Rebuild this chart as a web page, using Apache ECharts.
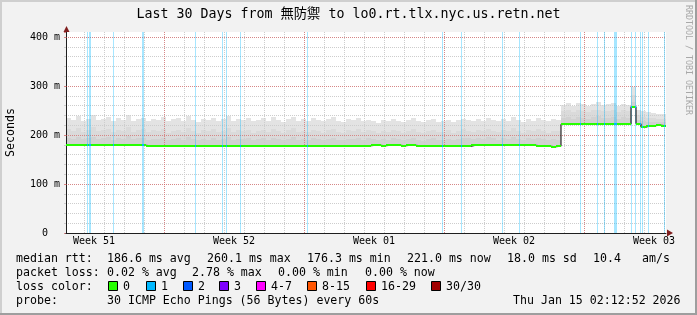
<!DOCTYPE html>
<html><head><meta charset="utf-8">
<script src="https://cdn.jsdelivr.net/npm/echarts@6/dist/echarts.min.js"></script>
<style>html,body{margin:0;padding:0;background:#f2f2f2}#c{width:697px;height:315px}</style>
</head><body><div id="c"></div>
<script>
// ---------------- data ----------------
const titleText = 'Last 30 Days from 無防禦 to lo0.rt.tlx.nyc.us.retn.net';
const weekLabels = ['Week 51', 'Week 52', 'Week 01', 'Week 02', 'Week 03'];
const yMajorTicks = [0, 100, 200, 300, 400];
const SAMPLE_DAYS = 0.25;   // each sample covers 6 hours
// median RTT (ms), one value per 6h sample, 120 samples = 30 days
const medianMs = [
  180,180,179,180,179,180,180,179,180,179,180,179,179,180,179,179,178,
  178,177,177,178,177,177,177,178,177,177,177,177,178,177,177,177,177,177,178,177,
  177,177,177,177,178,177,177,177,177,177,177,178,177,177,177,177,177,177,178,177,
  177,177,177,178,
  179,179,178,179,179,179,178,179,179,178,
  177,177,177,178,177,177,177,177,178,177,
  179,179,179,180,179,179,179,179,180,179,179,179,179,178,
  177,177,176,177,
  222,222,223,222,222,222,223,222,222,222,222,223,222,222,
  258,223,216,219,219,220,219
];
// smoke: upper edges of the three smoke shades (ms)
const smokeHigh = [
  234,231,238,229,233,240,230,233,236,228,234,231,241,229,232,235,229,233,230,236,
  228,232,235,229,238,230,227,233,231,235,229,232,239,228,233,230,235,228,231,234,
  229,236,230,227,232,237,228,232,229,234,231,228,233,236,229,227,232,230,235,228,
  231,229,225,230,228,232,229,227,230,234,228,226,230,233,227,229,231,227,230,233,
  231,228,233,229,235,230,228,232,229,236,231,227,232,229,234,230,228,232,231,
  262,265,260,266,263,259,264,267,261,263,265,260,264,262,
  297,252,248,246,244,243,242
];
const smokeMid = [
  212,209,214,207,211,216,208,210,213,206,211,209,217,207,210,212,206,210,208,213,
  205,209,211,207,214,208,205,210,208,212,206,209,215,206,210,208,211,205,208,211,
  207,212,208,205,210,214,206,209,207,211,208,205,210,213,207,205,210,208,212,206,
  210,208,204,209,206,211,208,205,208,212,206,204,209,211,206,207,210,205,208,212,
  209,207,211,208,213,209,206,210,208,214,209,205,210,208,212,209,205,209,208,
  248,250,247,251,249,246,250,252,248,249,251,247,250,248,
  282,240,236,235,234,233,233
];
const smokeInner = [
  194,192,195,191,193,196,192,193,195,190,193,192,197,191,193,194,190,192,191,194,
  189,191,193,190,195,191,189,192,190,194,190,191,196,189,192,191,193,189,191,193,
  190,194,191,189,192,195,190,191,190,193,191,189,192,194,190,189,192,191,194,190,
  193,192,190,192,190,194,192,190,191,194,189,188,191,193,189,190,192,189,191,194,
  193,191,194,192,195,193,190,193,192,196,192,190,193,191,194,192,189,191,190,
  234,236,233,237,235,232,236,238,234,235,237,233,236,234,
  268,231,228,227,226,226,226
];
// days (from left edge) where packet loss occurred, and lost pings
const lossDays = [1.05,1.15,1.2,2.35,3.8,3.85,6.45,7.8,8.0,8.7,12.05,18.8,19.75,21.8,22.65,
  25.7,26.55,26.9,27.4,27.45,27.5,28.25,28.45,28.7,28.8,29.1,29.9];
const lossPings = lossDays.map(() => 1);
// legend text
const rttStats = ['median rtt:', '186.6 ms avg', '260.1 ms max', '176.3 ms min', '221.0 ms now', '18.0 ms sd', '10.4', 'am/s'];
const lossStats = ['packet loss:', '0.02 % avg', '2.78 % max', '0.00 % min', '0.00 % now'];
const lossClasses = ['0', '1', '2', '3', '4-7', '8-15', '16-29', '30/30'];
const lossClassColors = ['#26ff00', '#00b8ff', '#0059ff', '#7e00ff', '#ff00ff', '#ff5500', '#ff0000', '#a10000'];
const probeText = ['probe:', '30 ICMP Echo Pings (56 Bytes) every 60s', 'Thu Jan 15 02:12:52 2026'];

// ---------------- layout / style ----------------
const MONO = '"DejaVu Sans Mono", "Noto Sans CJK JP", monospace';
const Y_MAX = 410.2;
const rttX = [16, 107, 207, 307, 407, 507, 593, 642];
const lossX = [16, 107, 192, 278, 365];
const boxX = [108, 146, 183, 219, 256, 307, 366, 431];
const probeX = [16, 107, 513];
const rowY = [259, 273, 287, 301];
const GRID_MINOR = '#cdcdcd';
const GRID_MAJOR = 'rgba(222,79,79,0.55)';

function txt(s, x, y, size, color, extra) {
  return {type: 'text', z: 50, silent: true, style: Object.assign({
    text: s, x: x, y: y, fill: color || '#000', font: size + 'px ' + MONO,
    textAlign: 'left', textVerticalAlign: 'middle'}, extra || {})};
}

const graphics = [];
// frame shading
graphics.push({type:'rect', z: 40, shape:{x:0,y:0,width:697,height:2}, style:{fill:'#cfcfcf'}});
graphics.push({type:'rect', z: 40, shape:{x:0,y:0,width:2,height:315}, style:{fill:'#cfcfcf'}});
graphics.push({type:'rect', z: 41, shape:{x:0,y:313,width:697,height:2}, style:{fill:'#9e9e9e'}});
graphics.push({type:'rect', z: 41, shape:{x:695,y:0,width:2,height:315}, style:{fill:'#9e9e9e'}});
// title
graphics.push(txt(titleText, 348.5, 15, 13.3, '#000', {textAlign: 'center'}));
// y axis title
graphics.push({type:'text', z: 50, x: 11, y: 132.5, rotation: Math.PI / 2,
  style:{text:'Seconds', x:0, y:0, fill:'#000', font:'11.6px ' + MONO, textAlign:'center', textVerticalAlign:'middle'}});
// watermark
graphics.push({type:'text', z: 50, x: 688.5, y: 60, rotation: -Math.PI / 2,
  style:{text:'RRDTOOL / TOBI OETIKER', x:0, y:0, fill:'#a8a8a8', font:'8.3px ' + MONO, textAlign:'center', textVerticalAlign:'middle'}});
// axis arrows
graphics.push({type:'polygon', z: 45, shape:{points:[[63.5,32],[66.5,26],[69.5,32]]}, style:{fill:'#801f1f'}});
graphics.push({type:'polygon', z: 45, shape:{points:[[667,229.5],[673,233],[667,236.5]]}, style:{fill:'#801f1f'}});
// legend
rttStats.forEach((s, i) => graphics.push(txt(s, rttX[i], rowY[0], 11.6)));
lossStats.forEach((s, i) => graphics.push(txt(s, lossX[i], rowY[1], 11.6)));
graphics.push(txt('loss color:', 16, rowY[2], 11.6));
lossClasses.forEach((s, i) => {
  graphics.push({type:'rect', z: 50, shape:{x: boxX[i] + 0.5, y: 281.5, width: 9, height: 9},
    style:{fill: lossClassColors[i], stroke:'#000', lineWidth: 1}});
  graphics.push(txt(s, boxX[i] + 15, rowY[2], 11.6));
});
probeText.forEach((s, i) => graphics.push(txt(s, probeX[i], rowY[3], 11.6)));

// ---------------- series ----------------
function bandSeries(name, upper, color, z) {
  return {
    name: name, type: 'custom', xAxisIndex: 0, yAxisIndex: 0, z: z, silent: true,
    data: upper.map((v, i) => [i * SAMPLE_DAYS, (i + 1) * SAMPLE_DAYS, medianMs[i], v]),
    encode: {x: [0, 1], y: [2, 3]},
    renderItem: function (params, api) {
      const p0 = api.coord([api.value(0), api.value(3)]);
      const p1 = api.coord([api.value(1), api.value(2)]);
      const x0 = Math.round(p0[0]), x1 = Math.round(p1[0]);
      const y0 = Math.round(p0[1]), y1 = Math.round(p1[1]);
      return {type: 'rect', shape: {x: x0, y: y0, width: x1 - x0, height: y1 - y0}, style: {fill: color}};
    }
  };
}

const medianStepData = medianMs.map((v, i) => [i * SAMPLE_DAYS, v]);
medianStepData.push([medianMs.length * SAMPLE_DAYS, medianMs[medianMs.length - 1]]);

const series = [
  bandSeries('smoke outer', smokeHigh, '#e3e3e3', 1),
  bandSeries('smoke mid', smokeMid, '#dadada', 1),
  bandSeries('smoke inner', smokeInner, '#d1d1d1', 1),
  {
    name: 'loss', type: 'custom', xAxisIndex: 0, yAxisIndex: 0, z: 6, silent: true,
    data: lossDays.map((d, i) => [d, lossPings[i]]),
    encode: {x: 0, y: 1},
    renderItem: function (params, api) {
      const d = api.value(0);
      const top = api.coord([d, Y_MAX]);
      const bot = api.coord([d, 0]);
      const x0 = Math.round(top[0]);
      return {type: 'rect', shape: {x: x0, y: top[1], width: 1, height: bot[1] - top[1]},
        style: {fill: 'rgba(0,184,255,0.35)'}};
    }
  },
  {
    name: 'median step', type: 'line', xAxisIndex: 0, yAxisIndex: 0, z: 7, silent: true,
    step: 'end', symbol: 'none', data: medianStepData,
    lineStyle: {color: '#000', width: 1}
  },
  {
    name: 'median', type: 'custom', xAxisIndex: 0, yAxisIndex: 0, z: 8, silent: true,
    data: medianMs.map((v, i) => [i * SAMPLE_DAYS, (i + 1) * SAMPLE_DAYS, v]),
    encode: {x: [0, 1], y: 2},
    renderItem: function (params, api) {
      const p0 = api.coord([api.value(0), api.value(2)]);
      const p1 = api.coord([api.value(1), api.value(2)]);
      const x0 = Math.round(p0[0]), x1 = Math.round(p1[0]);
      const y = Math.round(p0[1]);
      return {type: 'rect', shape: {x: x0, y: y - 1, width: x1 - x0, height: 2}, style: {fill: lossClassColors[0]}};
    }
  },
  {
    name: 'median loss color', type: 'custom', xAxisIndex: 0, yAxisIndex: 0, z: 9, silent: true,
    data: lossDays.map((d, i) => [d, medianMs[Math.min(medianMs.length - 1, Math.floor(d / SAMPLE_DAYS))], lossPings[i]]),
    encode: {x: 0, y: 1},
    renderItem: function (params, api) {
      const p = api.coord([api.value(0), api.value(1)]);
      return {type: 'rect', shape: {x: Math.round(p[0]), y: Math.round(p[1]) - 1, width: 1, height: 2},
        style: {fill: lossClassColors[api.value(2)]}};
    }
  }
];

const gridCommon = {top: 32, height: 201, outerBoundsMode: 'none', containLabel: false};
const hiddenY = (g) => ({gridIndex: g, type: 'value', min: 0, max: 1, show: false});
const noAxisParts = {axisLine: {show: false}, axisTick: {show: false}, axisLabel: {show: false}};

const option = {
  animation: false,
  backgroundColor: '#f2f2f2',
  grid: [
    Object.assign({left: 66, width: 600, show: true, backgroundColor: '#ffffff', borderWidth: 0}, gridCommon),
    Object.assign({left: 84, width: 580}, gridCommon),
    Object.assign({left: 164, width: 420}, gridCommon),
    Object.assign({left: 94, width: 560}, gridCommon)
  ],
  xAxis: [
    {gridIndex: 0, type: 'value', min: 0, max: 30, z: 10, position: 'bottom',
      axisLine: {show: true, onZero: false, lineStyle: {color: '#1f1f1f', width: 1}},
      axisTick: {show: false}, axisLabel: {show: false}, splitLine: {show: false}},
    Object.assign({gridIndex: 1, type: 'value', min: 0, max: 29, interval: 1, z: 4, position: 'bottom',
      splitLine: {show: true, lineStyle: {color: GRID_MINOR, width: 1, type: [1, 1]}}}, noAxisParts),
    Object.assign({gridIndex: 2, type: 'value', min: 0, max: 21, interval: 7, z: 5, position: 'bottom',
      splitLine: {show: true, lineStyle: {color: GRID_MAJOR, width: 1, type: [1, 1]}}}, noAxisParts),
    {gridIndex: 3, type: 'value', min: 0, max: 28, interval: 7, z: 10, position: 'bottom',
      axisLine: {show: false}, axisTick: {show: false}, splitLine: {show: false},
      axisLabel: {show: true, margin: 3, color: '#000', fontFamily: MONO, fontSize: 10,
        formatter: v => weekLabels[Math.round(v / 7)] || ''}}
  ],
  yAxis: [
    {gridIndex: 0, type: 'value', position: 'left', min: 0, max: Y_MAX, interval: 20, z: 4,
      axisLine: {show: true, onZero: false, lineStyle: {color: '#1f1f1f', width: 1}},
      axisTick: {show: true, length: 2, lineStyle: {color: GRID_MINOR}},
      axisLabel: {show: false},
      splitLine: {show: true, showMinLine: false, showMaxLine: false,
        lineStyle: {color: GRID_MINOR, width: 1, type: [1, 1]}}},
    {gridIndex: 0, type: 'value', position: 'left', offset: 0, min: 0, max: Y_MAX, interval: 100, z: 5,
      axisLine: {show: false, onZero: false},
      axisTick: {show: true, length: 2, lineStyle: {color: GRID_MAJOR}},
      axisLabel: {show: true, margin: 6, color: '#000', fontFamily: MONO, fontSize: 10,
        formatter: v => yMajorTicks.indexOf(v) < 0 ? '' : (v === 0 ? '0  ' : v + ' m')},
      splitLine: {show: true, showMinLine: false, showMaxLine: false,
        lineStyle: {color: GRID_MAJOR, width: 1, type: [1, 1]}}},
    hiddenY(1), hiddenY(2), hiddenY(3)
  ],
  series: series,
  graphic: graphics
};

const chart = echarts.init(document.getElementById('c'), null, {renderer: 'canvas'});
chart.setOption(option);
</script>
</body></html>
